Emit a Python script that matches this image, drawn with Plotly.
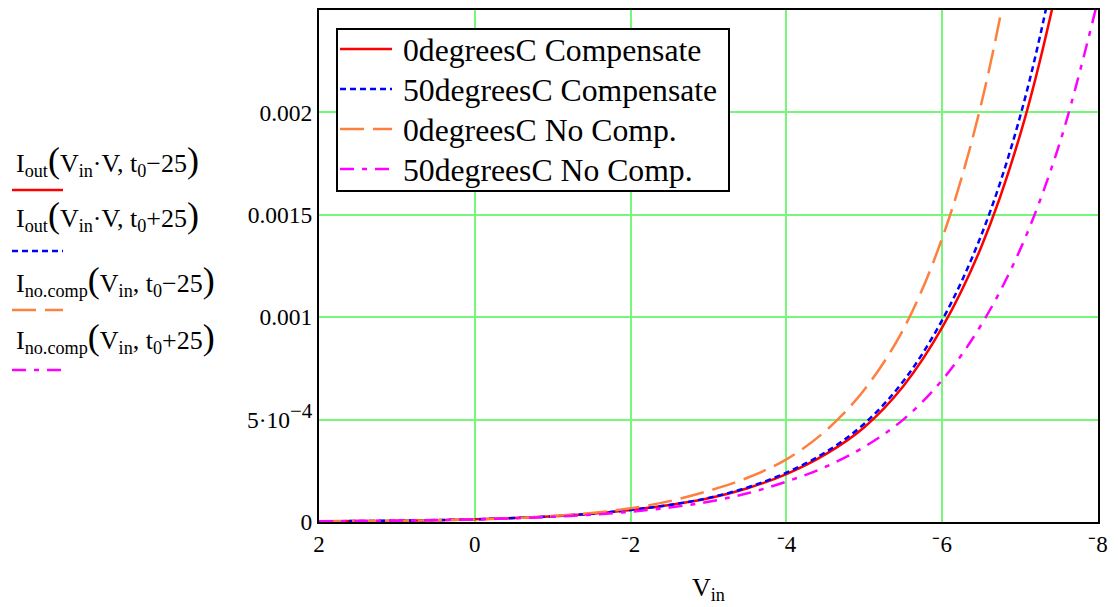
import plotly.graph_objects as go

# ---- data (current vs. input voltage) ----
v_in = [2, 1.5, 1, 0.5, 0, -0.5, -1, -1.5, -2, -2.5, -3, -3.5, -4, -4.5, -5, -5.5, -6, -6.5, -7, -7.5, -8]

i_red = [3.2e-6, 4.5e-6, 6.3e-6, 9.0e-6, 1.3e-5, 1.9e-5, 2.77e-5, 4.04e-5, 5.9e-5, 8.27e-5, 1.16e-4,
         1.65e-4, 2.34e-4, 3.3e-4, 4.63e-4, 6.63e-4, 9.5e-4, 1.342e-3, 1.89e-3, 2.66e-3, 3.7e-3]
i_blue = [3.3e-6, 4.7e-6, 6.6e-6, 9.4e-6, 1.35e-5, 1.95e-5, 2.82e-5, 4.08e-5, 5.9e-5, 8.32e-5, 1.177e-4,
          1.685e-4, 2.41e-4, 3.4e-4, 4.8e-4, 6.87e-4, 9.86e-4, 1.399e-3, 1.98e-3, 2.82e-3, 4.0e-3]
i_orange = [2.5e-6, 3.7e-6, 5.5e-6, 8.3e-6, 1.25e-5, 1.9e-5, 2.89e-5, 4.4e-5, 6.7e-5, 1.02e-4, 1.52e-4,
            2.16e-4, 3.06e-4, 4.44e-4, 6.46e-4, 9.4e-4, 1.386e-3, 2.04e-3, 3.01e-3, 4.4e-3, 6.5e-3]
i_mag = [3.5e-6, 4.9e-6, 6.7e-6, 9.3e-6, 1.3e-5, 1.82e-5, 2.55e-5, 3.57e-5, 5.0e-5, 7.03e-5, 9.89e-5,
         1.4e-4, 1.97e-4, 2.69e-4, 3.67e-4, 5.0e-4, 6.93e-4, 9.62e-4, 1.33e-3, 1.84e-3, 2.55e-3]

legend_names = ["0degreesC Compensate", "50degreesC Compensate", "0degreesC No Comp.", "50degreesC No Comp."]
P_OPEN = "<span style='font-size:36px'>(</span>"
P_CLOSE = "<span style='font-size:36px'>)</span>"
side_labels = [
    "I<sub>out</sub>" + P_OPEN + "V<sub>in</sub>·V, t<sub>0</sub>−25" + P_CLOSE,
    "I<sub>out</sub>" + P_OPEN + "V<sub>in</sub>·V, t<sub>0</sub>+25" + P_CLOSE,
    "I<sub>no.comp</sub>" + P_OPEN + "V<sub>in</sub>, t<sub>0</sub>−25" + P_CLOSE,
    "I<sub>no.comp</sub>" + P_OPEN + "V<sub>in</sub>, t<sub>0</sub>+25" + P_CLOSE,
]
x_tickvals = [2, 0, -2, -4, -6, -8]
x_ticktext = ["2", "0", "⁻2", "⁻4", "⁻6", "⁻8"]
y_tickvals = [0, 0.0005, 0.001, 0.0015, 0.002]
y_ticktext = ["0", "5·10<sup><span style='font-size:21px'>−4</span></sup>", "0.001", "0.0015", "0.002"]

# ---- styling ----
W, H = 1118, 607
L, R, T, B = 319, 20, 10, 85
PW, PH = W - L - R, H - T - B
FONT = "Liberation Serif, Times New Roman, serif"


def px_x(px):
    return (px - L) / PW


def px_y(py):
    return 1 - (py - T) / PH


colors = ["#FF0000", "#0000FF", "#FF7F3F", "#FF00FF"]
dashes = ["solid", "6px,4px", "24px,9px", "14px,8px,5px,8px"]
series = [i_red, i_blue, i_orange, i_mag]

fig = go.Figure()
for iy, name, c, d in zip(series, legend_names, colors, dashes):
    fig.add_trace(go.Scatter(
        x=v_in, y=iy, mode="lines", name=name, showlegend=False,
        line=dict(color=c, width=2.5, dash=d, shape="spline", smoothing=1.0),
        hoverinfo="skip",
    ))

gridc = "#77F777"
fig.update_xaxes(
    range=[2, -8], tickvals=x_tickvals, ticktext=x_ticktext,
    showgrid=True, gridcolor=gridc, gridwidth=1.5, zeroline=False,
    showline=True, linecolor="black", linewidth=2, mirror=True,
    ticks="", tickfont=dict(family=FONT, size=23, color="black"),
    title=dict(text="V<sub>in</sub>", font=dict(family=FONT, size=26, color="black"), standoff=22),
)
fig.update_yaxes(
    range=[0, 0.0025], tickvals=y_tickvals, ticktext=y_ticktext,
    showgrid=True, gridcolor=gridc, gridwidth=1.5, zeroline=False,
    showline=True, linecolor="black", linewidth=2, mirror=True,
    ticks="", tickfont=dict(family=FONT, size=23.5, color="black"),
)

annotations = []
shapes = []

# left-hand Mathcad style trace labels
label_y = [160, 215, 280, 337]
line_y = [190, 251, 310, 370]
for lab, ly, sy, c, d in zip(side_labels, label_y, line_y, colors, dashes):
    annotations.append(dict(
        text=lab, xref="paper", yref="paper", x=px_x(14), y=px_y(ly),
        xanchor="left", yanchor="middle", showarrow=False,
        font=dict(family=FONT, size=26, color="black"),
    ))
    shapes.append(dict(
        type="line", xref="paper", yref="paper",
        x0=px_x(12), x1=px_x(63), y0=px_y(sy), y1=px_y(sy),
        line=dict(color=c, width=2.5, dash=d),
    ))

# legend box inside the plot
shapes.append(dict(
    type="rect", xref="paper", yref="paper", layer="above",
    x0=px_x(337), x1=px_x(729), y0=px_y(191), y1=px_y(29),
    fillcolor="white", line=dict(color="black", width=2),
))
row_y = [49, 89, 129, 169]
for name, ry, c, d in zip(legend_names, row_y, colors, dashes):
    shapes.append(dict(
        type="line", xref="paper", yref="paper", layer="above",
        x0=px_x(340), x1=px_x(392), y0=px_y(ry), y1=px_y(ry),
        line=dict(color=c, width=2.5, dash=d),
    ))
    annotations.append(dict(
        text=name, xref="paper", yref="paper", x=px_x(401), y=px_y(ry + 1),
        xanchor="left", yanchor="middle", showarrow=False,
        font=dict(family=FONT, size=31.7, color="black"),
    ))

fig.update_layout(
    width=W, height=H,
    margin=dict(l=L, r=R, t=T, b=B, autoexpand=False),
    paper_bgcolor="white", plot_bgcolor="white",
    font=dict(family=FONT, color="black"),
    showlegend=False,
    annotations=annotations,
    shapes=shapes,
)

fig.write_html(
    "out.html",
    config={"displayModeBar": False},
    post_script="document.body.style.margin='0px';document.body.style.overflow='hidden';",
)
